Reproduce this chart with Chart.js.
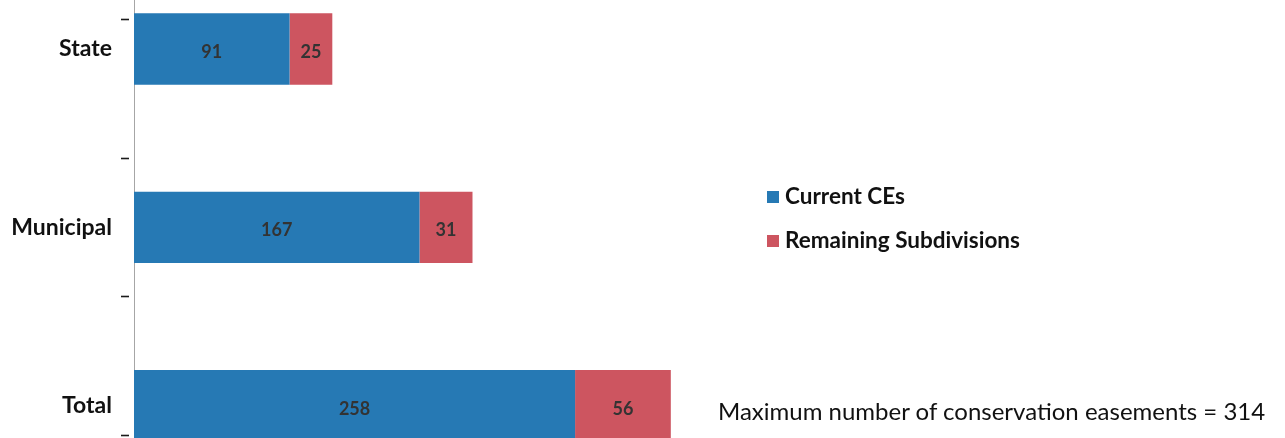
<!DOCTYPE html>
<html>
<head>
<meta charset="utf-8">
<script src="https://cdn.jsdelivr.net/npm/chart.js@4.4.1/dist/chart.umd.min.js"></script>
<style>
  html, body { margin: 0; padding: 0; background: #fff; overflow: hidden; width: 1285px; height: 438px; }
  #wrap { position: absolute; left: 0; top: -63px; width: 1285px; height: 600px; }
  #legend { position: absolute; left: 767px; top: 181px; font: bold 22.5px Lato, sans-serif; color: #111; }
  #legend div { height: 44px; line-height: 30px; white-space: nowrap; }
  #legend span { display: inline-block; width: 12px; height: 12px; margin-right: 6px; vertical-align: 1px; }
  #note { position: absolute; left: 718px; top: 396px; font: 24px Lato, sans-serif; color: #111; white-space: nowrap; }
</style>
</head>
<body>
<div id="wrap"><canvas id="chart" width="1285" height="600"></canvas></div>
<div id="legend"></div>
<div id="note"></div>
<script>
// data
var categories = ['State', 'Municipal', 'Total'];
var currentCEs = [91, 167, 258];
var remaining = [25, 31, 56];
var seriesNames = ['Current CEs', 'Remaining Subdivisions'];
var seriesColors = ['#2679b4', '#cd5560'];
var tickMarkValues = [0, 1, 2, 3];
var noteText = 'Maximum number of conservation easements = 314';

// write the value in the middle of each bar
const barLabels = {
    id: 'barLabels',
    afterDatasetsDraw(chart) {
        const c = chart.ctx;
        c.save();
        c.font = 'bold 18px Lato, sans-serif';
        c.fillStyle = '#333';
        c.textAlign = 'center';
        c.textBaseline = 'middle';
        chart.data.datasets.forEach((ds, i) => {
            chart.getDatasetMeta(i).data.forEach((bar, j) => {
                const p = bar.getCenterPoint();
                c.fillText(ds.data[j], p.x, p.y + 3);
            });
        });
        c.restore();
    }
};

const ctx = document.getElementById('chart');
const barChart = new Chart(ctx, {
    type: 'bar',
    data: {
        labels: categories,
        datasets: [{
            label: seriesNames[0],
            data: currentCEs,
            backgroundColor: seriesColors[0]
        }, {
            label: seriesNames[1],
            data: remaining,
            backgroundColor: seriesColors[1]
        }]
    },
    plugins: [barLabels],
    options: {
        indexAxis: 'y',
        responsive: false,
        animation: false,
        barPercentage: 0.4,
        categoryPercentage: 1,
        layout: { padding: { top: 18, bottom: 42, left: 0, right: 527 } },
        plugins: {
            legend: { display: false },
            tooltip: { enabled: false }
        },
        scales: {
            x: { display: false, stacked: true, min: 0, max: 365 },
            y: {
                stacked: true,
                weight: 1,
                grid: { display: false, drawTicks: false },
                border: { display: false },
                ticks: { padding: 9, color: '#111', font: { family: 'Lato', size: 23, weight: 'bold' } },
                afterFit: function (s) { s.width = 121; }
            },
            // only here for the small tick marks left of the axis line
            y2: {
                type: 'linear',
                position: 'left',
                weight: 0,
                offset: false,
                beginAtZero: false,
                min: -0.4286,
                max: 3.4286,
                afterBuildTicks: function (s) {
                    s.ticks = tickMarkValues.map(function (v) { return { value: v }; });
                },
                ticks: { display: false },
                grid: {
                    offset: false,
                    drawOnChartArea: false,
                    drawTicks: true,
                    tickLength: 13,
                    tickColor: '#1a1a1a',
                    tickWidth: 1.6,
                    tickBorderDash: [8, 5]
                },
                border: { display: true, color: '#a6a6a6', width: 1 }
            }
        }
    }
});

// legend and note as page text
var leg = document.getElementById('legend');
seriesNames.forEach(function (n, i) {
    var d = document.createElement('div');
    d.innerHTML = '<span style="background:' + seriesColors[i] + '"></span>' + n;
    leg.appendChild(d);
});
document.getElementById('note').textContent = noteText;
</script>
</body>
</html>
